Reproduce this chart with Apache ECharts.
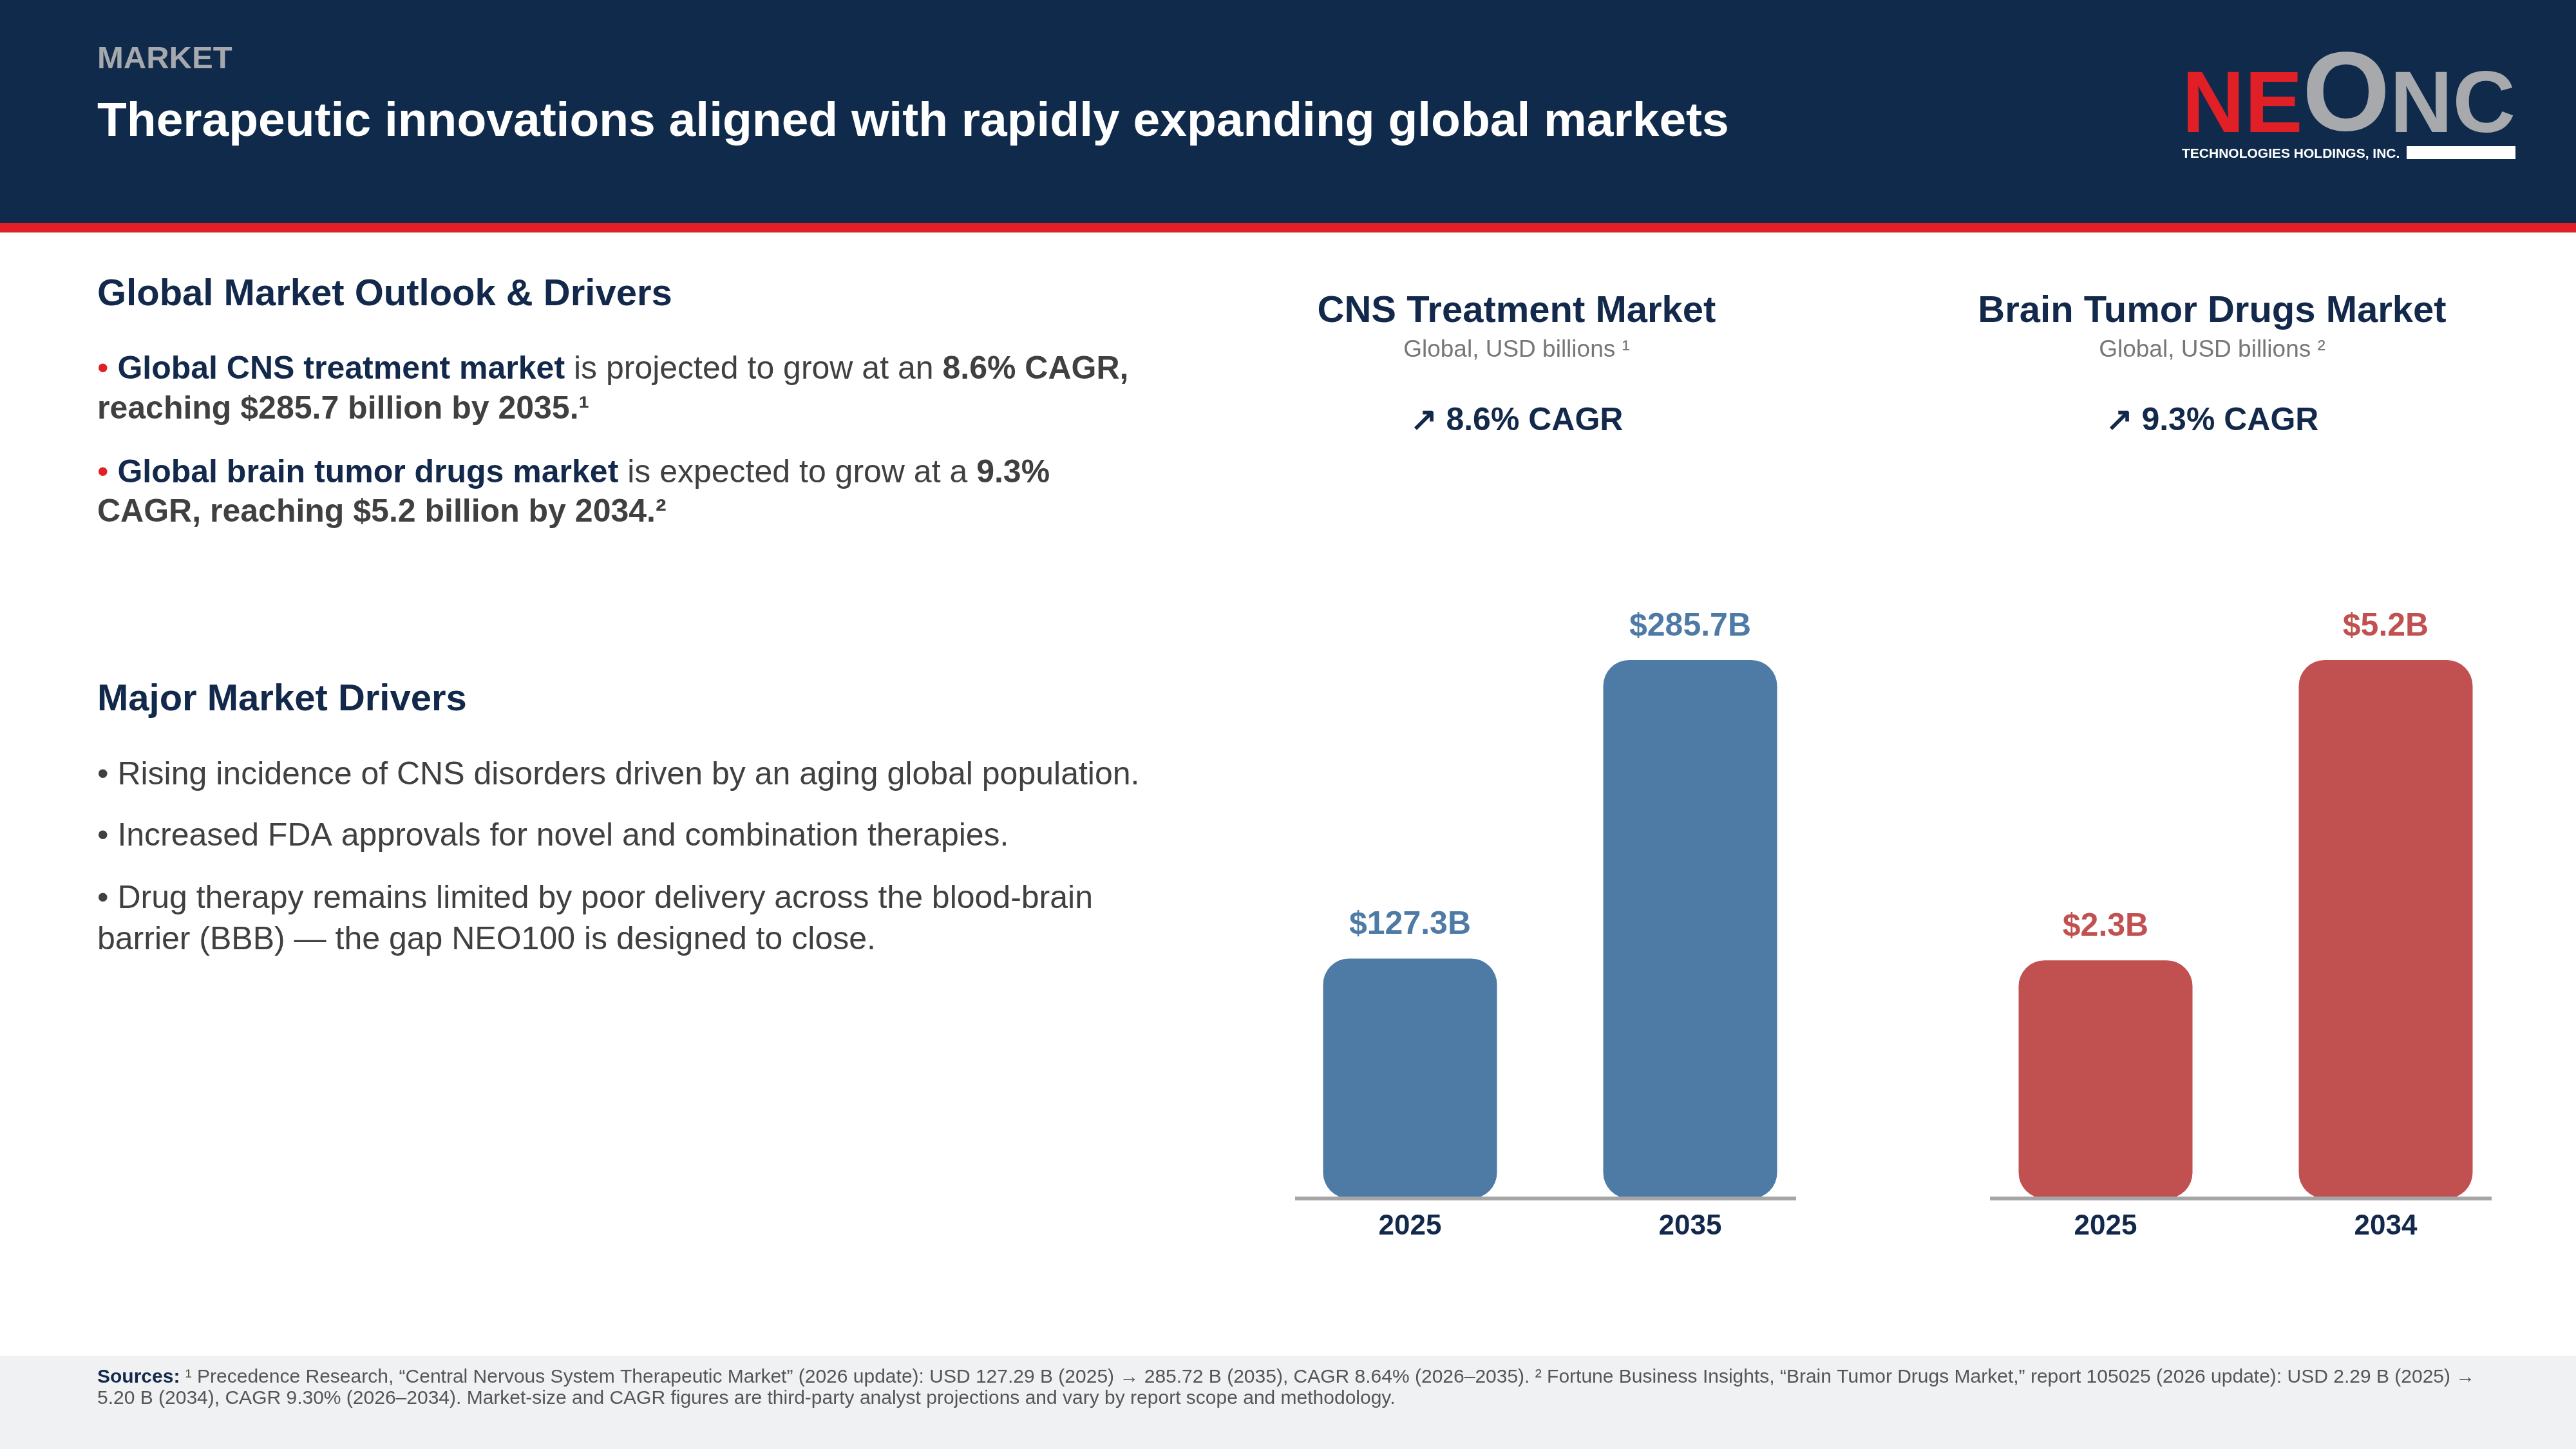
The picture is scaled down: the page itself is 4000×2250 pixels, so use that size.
<!DOCTYPE html>
<html>
<head>
<meta charset="utf-8">
<title>Market</title>
<script src="https://cdn.jsdelivr.net/npm/echarts@6/dist/echarts.min.js"></script>
<style>
html, body { margin: 0; padding: 0; background: #fff; }
#main { width: 4000px; height: 2250px; }
</style>
</head>
<body>
<div id="main"></div>
<script>
// chart data
var cnsYears = ['2025', '2035'];
var cnsValues = [127.3, 285.7];
var tumorYears = ['2025', '2034'];
var tumorValues = [2.3, 5.2];
var chartTitles = ['CNS Treatment Market', 'Brain Tumor Drugs Market'];
var chartSubtitles = ['Global, USD billions ¹', 'Global, USD billions ²'];
var cagrLabels = ['↗ 8.6% CAGR', '↗ 9.3% CAGR'];

var FONT = '"Liberation Sans", Arial, Helvetica, sans-serif';
var NAVY = '#13294b';
var GRAY = '#404040';
var RED = '#e01f26';
var BLUE = '#4e7aa6';
var BRICK = '#c05150';
var AXIS_GRAY = '#a6a6a6';

var text = function (x, y, str, size, color, weight, align, rich) {
    var el = {
        type: 'text',
        x: x,
        y: y,
        silent: true,
        style: {
            text: str,
            fontSize: size,
            fontFamily: FONT,
            fontWeight: weight || 'normal',
            fill: color,
            align: align || 'left',
            verticalAlign: 'middle'
        }
    };
    if (rich) el.style.rich = rich;
    return el;
}

var part = function (color, weight, size) {
    return { fill: color, fontWeight: weight, fontSize: size || 50, fontFamily: FONT };
}

var bodyRich = {
    r: part(RED, 'normal'),
    h: part(NAVY, 'bold'),
    n: part(GRAY, 'normal'),
    b: part(GRAY, 'bold')
};

var graphics = [
    // header band
    { type: 'rect', shape: { x: 0, y: 0, width: 4000, height: 346 }, style: { fill: '#0f2a4a' }, silent: true },
    { type: 'rect', shape: { x: 0, y: 346, width: 4000, height: 15 }, style: { fill: RED }, silent: true },
    // footer band
    { type: 'rect', shape: { x: 0, y: 2105, width: 4000, height: 145 }, style: { fill: '#f0f1f3' }, silent: true },

    text(151, 92, 'MARKET', 49, '#a5a8ad', 'bold'),
    text(151, 190, 'Therapeutic innovations aligned with rapidly expanding global markets', 75, '#ffffff', 'bold'),

    // logo
    text(3388, 168, 'NE', 135, RED, 'bold'),
    text(3575, 154, 'O', 175, '#a7a9ac', 'bold'),
    text(3711, 168, 'NC', 135, '#a7a9ac', 'bold'),
    text(3388, 239, 'TECHNOLOGIES HOLDINGS, INC.', 21, '#ffffff', 'bold'),
    { type: 'rect', shape: { x: 3737, y: 227, width: 169, height: 20 }, style: { fill: '#ffffff' }, silent: true },

    // left column
    text(151, 458, 'Global Market Outlook & Drivers', 58, NAVY, 'bold'),
    text(151, 574, '{r|• }{h|Global CNS treatment market}{n| is projected to grow at an }{b|8.6% CAGR,}', 50, GRAY, 'normal', 'left', bodyRich),
    text(151, 636, 'reaching $285.7 billion by 2035.¹', 50, GRAY, 'bold'),
    text(151, 735, '{r|• }{h|Global brain tumor drugs market}{n| is expected to grow at a }{b|9.3%}', 50, GRAY, 'normal', 'left', bodyRich),
    text(151, 796, 'CAGR, reaching $5.2 billion by 2034.²', 50, GRAY, 'bold'),

    text(151, 1087, 'Major Market Drivers', 58, NAVY, 'bold'),
    text(151, 1204, '• Rising incidence of CNS disorders driven by an aging global population.', 50, GRAY),
    text(151, 1299, '• Increased FDA approvals for novel and combination therapies.', 50, GRAY),
    text(151, 1396, '• Drug therapy remains limited by poor delivery across the blood-brain', 50, GRAY),
    text(151, 1460, 'barrier (BBB) — the gap NEO100 is designed to close.', 50, GRAY),

    // chart CAGR callouts
    text(2355, 654, cagrLabels[0], 50, NAVY, 'bold', 'center'),
    text(3435, 654, cagrLabels[1], 50, NAVY, 'bold', 'center'),

    // baselines under the bars
    { type: 'rect', shape: { x: 2011, y: 1858, width: 778, height: 6 }, style: { fill: AXIS_GRAY }, silent: true, z: 10 },
    { type: 'rect', shape: { x: 3090, y: 1858, width: 779, height: 6 }, style: { fill: AXIS_GRAY }, silent: true, z: 10 },

    // sources
    text(151, 2139, '{s|Sources:} ¹ Precedence Research, “Central Nervous System Therapeutic Market” (2026 update): USD 127.29 B (2025) → 285.72 B (2035), CAGR 8.64% (2026–2035). ² Fortune Business Insights, “Brain Tumor Drugs Market,” report 105025 (2026 update): USD 2.29 B (2025) →',
        30, '#555555', 'normal', 'left', { s: part(NAVY, 'bold', 30) }),
    text(151, 2172, '5.20 B (2034), CAGR 9.30% (2026–2034). Market-size and CAGR figures are third-party analyst projections and vary by report scope and methodology.', 30, '#555555')
];

var chartTitle = function (i, x) {
    return {
        text: chartTitles[i],
        subtext: chartSubtitles[i],
        left: x,
        top: 455,
        padding: 0,
        itemGap: 12,
        textAlign: 'center',
        textStyle: { fontSize: 58, fontWeight: 'bold', color: NAVY, fontFamily: FONT },
        subtextStyle: { fontSize: 37, color: '#777777', fontFamily: FONT }
    };
}

var xAxisOf = function (gridIndex, years) {
    return {
        type: 'category',
        gridIndex: gridIndex,
        data: years,
        axisLine: { show: false },
        axisTick: { show: false },
        axisLabel: { margin: 22, fontSize: 44, fontWeight: 'bold', color: NAVY, fontFamily: FONT }
    };
}

var barOf = function (index, values, color) {
    return {
        type: 'bar',
        xAxisIndex: index,
        yAxisIndex: index,
        data: values,
        barWidth: 270,
        itemStyle: { color: color, borderRadius: 40 },
        label: {
            show: true,
            position: 'top',
            distance: 27,
            formatter: function (p) { return '$' + p.value + 'B'; },
            fontSize: 50,
            fontWeight: 'bold',
            color: color,
            fontFamily: FONT
        },
        silent: true
    };
}

var chart = echarts.init(document.getElementById('main'));
var option = {
    animation: false,
    backgroundColor: '#ffffff',
    title: [chartTitle(0, 2355), chartTitle(1, 3435)],
    grid: [
        { left: 1972, width: 870, top: 1025, height: 836 },
        { left: 3052, width: 870, top: 1025, height: 836 }
    ],
    xAxis: [xAxisOf(0, cnsYears), xAxisOf(1, tumorYears)],
    yAxis: [
        { type: 'value', gridIndex: 0, min: 0, max: 'dataMax', show: false },
        { type: 'value', gridIndex: 1, min: 0, max: 'dataMax', show: false }
    ],
    series: [barOf(0, cnsValues, BLUE), barOf(1, tumorValues, BRICK)],
    graphic: graphics
};
chart.setOption(option);
</script>
</body>
</html>
